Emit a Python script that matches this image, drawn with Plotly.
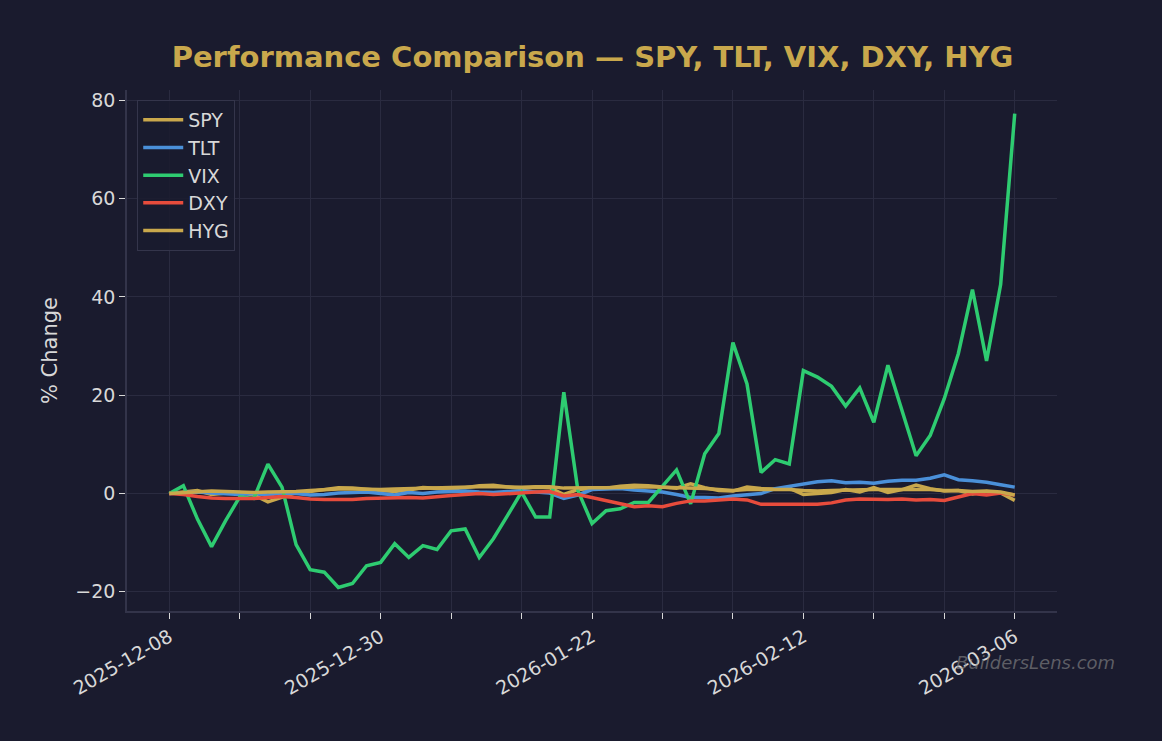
import plotly.graph_objects as go

dates = [
    "2025-12-08", "2025-12-09", "2025-12-10", "2025-12-11", "2025-12-12",
    "2025-12-15", "2025-12-16", "2025-12-17", "2025-12-18", "2025-12-19",
    "2025-12-22", "2025-12-23", "2025-12-24", "2025-12-26", "2025-12-29",
    "2025-12-30", "2025-12-31", "2026-01-02", "2026-01-05", "2026-01-06",
    "2026-01-07", "2026-01-08", "2026-01-09", "2026-01-12", "2026-01-13",
    "2026-01-14", "2026-01-15", "2026-01-16", "2026-01-20", "2026-01-21",
    "2026-01-22", "2026-01-23", "2026-01-26", "2026-01-27", "2026-01-28",
    "2026-01-29", "2026-01-30", "2026-02-02", "2026-02-03", "2026-02-04",
    "2026-02-05", "2026-02-06", "2026-02-09", "2026-02-10", "2026-02-11",
    "2026-02-12", "2026-02-13", "2026-02-17", "2026-02-18", "2026-02-19",
    "2026-02-20", "2026-02-23", "2026-02-24", "2026-02-25", "2026-02-26",
    "2026-02-27", "2026-03-02", "2026-03-03", "2026-03-04", "2026-03-05",
    "2026-03-06",
]

spy = [0, 0.3, 0.6, -0.2, 0.1, 0.2, -0.3, -1.7, -0.8, 0.2,
       0.4, 0.8, 1.2, 1.1, 0.8, 0.6, 0.4, 0.7, 1.2, 1.0,
       0.9, 1.2, 1.6, 1.7, 1.4, 1.0, 1.3, 1.2, -0.2, 0.8,
       1.0, 1.1, 1.5, 1.7, 1.6, 1.3, 1.1, 2.0, 1.2, 0.6,
       0.5, 1.3, 1.0, 0.9, 1.1, -0.2, 0.0, 0.2, 0.8, 0.3,
       1.2, 0.2, 0.8, 1.7, 1.0, 0.5, 0.6, -0.1, 0.4, 0.1,
       -1.4]
tlt = [0, 0.2, 0.3, 0.1, 0.0, -0.2, 0.0, -0.3, 0.1, 0.0,
       -0.3, -0.2, 0.1, 0.2, 0.3, 0.0, -0.3, 0.2, 0.0, 0.3,
       0.4, 0.5, 0.3, 0.2, 0.4, 0.5, 0.3, 0.1, -1.0, -0.3,
       0.8, 0.9, 1.0, 0.7, 0.5, 0.3, -0.2, -0.8, -0.8, -0.9,
       -0.5, -0.2, 0.0, 1.0, 1.5, 2.0, 2.4, 2.6, 2.2, 2.3,
       2.1, 2.5, 2.7, 2.7, 3.1, 3.8, 2.8, 2.6, 2.3, 1.8,
       1.3]
vix = [0, 1.6, -5.2, -10.8, -5.5, -0.7, -1.0, 6.0, 1.3, -10.4,
       -15.5, -16.0, -19.1, -18.3, -14.7, -14.0, -10.2, -13.0, -10.6, -11.4,
       -7.6, -7.2, -13.0, -9.2, -4.5, 0.3, -4.8, -4.8, 20.6, 0.6,
       -6.1, -3.5, -3.1, -1.8, -1.8, 1.6, 4.8, -2.1, 8.1, 12.2,
       30.7, 22.3, 4.3, 6.9, 6.0, 25.0, 23.7, 21.8, 17.8, 21.5,
       14.5, 26.1, 16.9, 7.7, 11.8, 19.3, 28.5, 41.5, 27.0, 42.5,
       77.3]
dxy = [0, -0.2, -0.6, -0.9, -1.0, -1.0, -1.0, -0.8, -0.6, -0.8,
       -1.1, -1.2, -1.2, -1.2, -1.0, -0.9, -0.8, -0.8, -0.9, -0.6,
       -0.4, -0.2, 0.0, -0.2, 0.0, 0.1, 0.3, 0.4, -0.5, -0.2,
       -0.8, -1.4, -2.0, -2.7, -2.5, -2.7, -2.0, -1.5, -1.5, -1.3,
       -1.1, -1.3, -2.2, -2.2, -2.2, -2.1, -2.2, -1.9, -1.3, -1.1,
       -1.2, -1.2, -1.1, -1.3, -1.2, -1.4, -0.7, 0.0, -0.3, 0.1,
       -0.3]
hyg = [0, 0.2, 0.4, 0.5, 0.4, 0.3, 0.2, 0.3, 0.3, 0.4,
       0.6, 0.8, 0.9, 0.9, 0.8, 0.8, 0.9, 1.0, 1.1, 1.2,
       1.2, 1.3, 1.4, 1.4, 1.3, 1.3, 1.4, 1.4, 1.1, 1.2,
       1.2, 1.2, 1.3, 1.4, 1.4, 1.3, 1.2, 1.2, 1.0, 0.8,
       0.6, 0.8, 0.8, 0.7, 0.8, 0.6, 0.5, 0.6, 0.7, 0.7,
       0.8, 0.8, 0.8, 0.9, 0.8, 0.6, 0.6, 0.4, 0.5, 0.3,
       -0.3]

series = [
    ("SPY", spy, "#c9a84c"),
    ("TLT", tlt, "#4a90d9"),
    ("VIX", vix, "#2ecc71"),
    ("DXY", dxy, "#e74c3c"),
    ("HYG", hyg, "#c9a84c"),
]

BG = "#1a1b2e"
TXT = "#d8d8d8"
GRID = "#2a2b40"
SPINE = "#33344a"

fig = go.Figure()
for name, vals, col in series:
    fig.add_trace(go.Scatter(x=dates, y=vals, name=name, mode="lines",
                             line=dict(color=col, width=3.5)))

tickvals = dates[::5]
ticktext = [d if k % 3 == 0 else "" for k, d in enumerate(tickvals)]

fig.update_layout(
    width=1162, height=741,
    paper_bgcolor=BG, plot_bgcolor=BG,
    margin=dict(l=127, r=105, t=90, b=130),
    font=dict(family="DejaVu Sans", color=TXT, size=18),
    title=dict(text="<b>Performance Comparison — SPY, TLT, VIX, DXY, HYG</b>",
               x=(592.5) / 1162, xanchor="center", y=1 - 57 / 741, yanchor="middle",
               font=dict(size=29, color="#c9a84c", family="DejaVu Sans")),
    xaxis=dict(type="category", range=[-3, 63], tickvals=tickvals, ticktext=ticktext,
               tickangle=-30, ticks="outside", ticklen=6, tickcolor=TXT, tickwidth=1,
               showgrid=True, gridcolor=GRID, gridwidth=1, zeroline=False,
               showline=True, linecolor=SPINE, linewidth=1.5, mirror=False,
               tickfont=dict(size=19, color=TXT)),
    yaxis=dict(range=[-23.9, 82.1], tickvals=[-20, 0, 20, 40, 60, 80],
               ticks="outside", ticklen=6, tickcolor=TXT, tickwidth=1,
               showgrid=True, gridcolor=GRID, gridwidth=1, zeroline=False,
               showline=True, linecolor=SPINE, linewidth=1.5,
               title=dict(text="% Change", font=dict(size=21, color=TXT), standoff=12),
               tickfont=dict(size=19, color=TXT)),
    legend=dict(x=0.011, y=0.981, xanchor="left", yanchor="top",
                bgcolor="rgba(26,27,46,0.85)", bordercolor="#34354b", borderwidth=1,
                font=dict(size=19, color=TXT), itemwidth=40, tracegroupgap=0),
    showlegend=True,
)

fig.add_annotation(text="<i>BuildersLens.com</i>", xref="paper", yref="paper",
                   x=(1117 - 127) / 930, y=-(662 - 611) / 521, xanchor="right", yanchor="middle",
                   showarrow=False, font=dict(size=18, color="rgba(140,140,140,0.6)"))

fig.write_html("out.html")
